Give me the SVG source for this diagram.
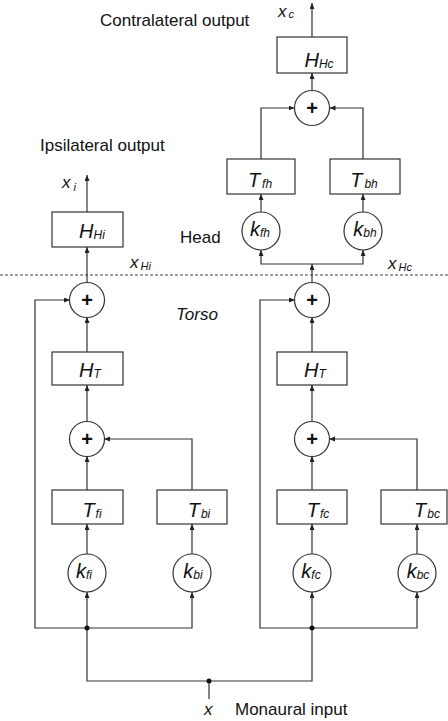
<svg xmlns="http://www.w3.org/2000/svg" width="448" height="721" viewBox="0 0 448 721">
<defs>
<marker id="ah" markerUnits="userSpaceOnUse" markerWidth="7" markerHeight="6" refX="6" refY="2.5" orient="auto">
<path d="M0,0 L6,2.5 L0,5 z" fill="#222"/>
</marker>
<style>
.bx{fill:#fff;stroke:#333;stroke-width:1.2}
.cr{fill:#fff;stroke:#333;stroke-width:1.2}
.ln{fill:none;stroke:#333;stroke-width:1.2}
.ar{fill:none;stroke:#333;stroke-width:1.2;marker-end:url(#ah)}
.lbl{font-family:"Liberation Sans",Arial,sans-serif;font-size:17px;fill:#111}
.m{font-family:"Liberation Sans",Arial,sans-serif;font-style:italic;font-size:20px;fill:#111;text-anchor:middle}
.s{font-size:12px}
.v{font-family:"Liberation Sans",Arial,sans-serif;font-style:italic;font-size:17px;fill:#111}
.vs{font-size:11px}
.pl{font-family:"Liberation Sans",Arial,sans-serif;font-weight:bold;font-size:20px;fill:#111;text-anchor:middle}
</style>
</defs>
<g id="connectors">
<line x1="0" y1="275" x2="448" y2="275" stroke="#444" stroke-width="1" stroke-dasharray="3,2"/>
<!-- head -->
<path class="ar" d="M312,37 V3"/>
<path class="ar" d="M312,90.5 V73"/>
<path class="ar" d="M261,159 V108 H294.5"/>
<path class="ar" d="M363,159 V108 H329.5"/>
<path class="ar" d="M261,212 V194"/>
<path class="ar" d="M363,212 V194"/>
<path class="ar" d="M312,283 V264"/>
<path class="ar" d="M312,264 H261 V250"/>
<path class="ar" d="M312,264 H363 V250"/>
<!-- left torso -->
<path class="ar" d="M87,212 V175"/>
<path class="ar" d="M87,283 V247"/>
<path class="ar" d="M87,352 V317"/>
<path class="ar" d="M87,422 V385"/>
<path class="ar" d="M87,490 V456"/>
<path class="ar" d="M192,490 V439 H104"/>
<path class="ar" d="M87,554 V524"/>
<path class="ar" d="M192,554 V524"/>
<path class="ar" d="M87,628 V592"/>
<path class="ar" d="M87,628 H192 V592"/>
<path class="ar" d="M87,628 H35 V300 H70"/>
<!-- right torso -->
<path class="ar" d="M312,352 V317"/>
<path class="ar" d="M312,422 V385"/>
<path class="ar" d="M312,490 V456"/>
<path class="ar" d="M417,490 V439 H329"/>
<path class="ar" d="M312,554 V524"/>
<path class="ar" d="M417,554 V524"/>
<path class="ar" d="M312,628 V592"/>
<path class="ar" d="M312,628 H417 V592"/>
<path class="ar" d="M312,628 H260 V300 H295"/>
<!-- input -->
<path class="ln" d="M87,628 V681 H312 V628"/>
<path class="ln" d="M209,681 V699"/>
<circle cx="87" cy="628" r="2.5" fill="#111"/>
<circle cx="312" cy="628" r="2.5" fill="#111"/>
<circle cx="209" cy="681" r="2.5" fill="#111"/>
</g>
<g id="HHc"><rect class="bx" x="277" y="37" width="70" height="36"/><text class="m" x="319" y="67">H<tspan class="s" dy="1">Hc</tspan></text></g>
<g id="sumHead"><circle class="cr" cx="312" cy="108" r="17.5"/><text class="pl" x="312" y="115">+</text></g>
<g id="Tfh"><rect class="bx" x="227" y="159" width="68" height="35"/><text class="m" x="260" y="187">T<tspan class="s" dx="2" dy="1">fh</tspan></text></g>
<g id="Tbh"><rect class="bx" x="330" y="159" width="70" height="35"/><text class="m" x="364" y="187">T<tspan class="s" dx="2" dy="1">bh</tspan></text></g>
<g id="kfh"><circle class="cr" cx="261" cy="231" r="19"/><text class="m" x="260" y="236">k<tspan class="s" dy="1">fh</tspan></text></g>
<g id="kbh"><circle class="cr" cx="363" cy="231" r="19"/><text class="m" x="365" y="236">k<tspan class="s" dy="1">bh</tspan></text></g>
<g id="HHi"><rect class="bx" x="52" y="212" width="71" height="35"/><text class="m" x="92" y="238">H<tspan class="s" dy="1">Hi</tspan></text></g>
<g id="sumTorsoL"><circle class="cr" cx="87" cy="300" r="17.5"/><text class="pl" x="87" y="307">+</text></g>
<g id="HTL"><rect class="bx" x="52" y="352" width="71" height="33"/><text class="m" x="90" y="377">H<tspan class="s" dy="1">T</tspan></text></g>
<g id="sumL"><circle class="cr" cx="87" cy="439" r="17.5"/><text class="pl" x="87" y="446">+</text></g>
<g id="Tfi"><rect class="bx" x="52" y="490" width="71" height="34"/><text class="m" x="92" y="517">T<tspan class="s" dx="1" dy="1">fi</tspan></text></g>
<g id="Tbi"><rect class="bx" x="157" y="490" width="70" height="34"/><text class="m" x="199" y="517">T<tspan class="s" dx="1" dy="1">bi</tspan></text></g>
<g id="kfi"><circle class="cr" cx="87" cy="573" r="19"/><text class="m" x="84" y="578">k<tspan class="s" dy="1">fi</tspan></text></g>
<g id="kbi"><circle class="cr" cx="192" cy="573" r="19"/><text class="m" x="193" y="578">k<tspan class="s" dy="1">bi</tspan></text></g>
<g id="sumTorsoR"><circle class="cr" cx="312" cy="300" r="17.5"/><text class="pl" x="312" y="307">+</text></g>
<g id="HTR"><rect class="bx" x="277" y="352" width="70" height="33"/><text class="m" x="315" y="377">H<tspan class="s" dy="1">T</tspan></text></g>
<g id="sumR"><circle class="cr" cx="312" cy="439" r="17.5"/><text class="pl" x="312" y="446">+</text></g>
<g id="Tfc"><rect class="bx" x="277" y="490" width="70" height="34"/><text class="m" x="318" y="517">T<tspan class="s" dx="1" dy="1">fc</tspan></text></g>
<g id="Tbc"><rect class="bx" x="381" y="490" width="66" height="34"/><text class="m" x="427" y="517">T<tspan class="s" dx="1" dy="1">bc</tspan></text></g>
<g id="kfc"><circle class="cr" cx="312" cy="573" r="19"/><text class="m" x="311" y="578">k<tspan class="s" dy="1">fc</tspan></text></g>
<g id="kbc"><circle class="cr" cx="417" cy="573" r="19"/><text class="m" x="418" y="578">k<tspan class="s" dy="1">bc</tspan></text></g>
<g id="labels">
<text class="lbl" x="100" y="26">Contralateral output</text>
<text class="lbl" x="40" y="151">Ipsilateral output</text>
<text class="lbl" x="180" y="243">Head</text>
<text class="lbl" x="176" y="320" font-style="italic">Torso</text>
<text class="lbl" x="235" y="715">Monaural input</text>
<text class="v" x="204" y="715" font-size="18">x</text>
<text class="v" x="278" y="17">x<tspan class="vs" dx="2" dy="1">c</tspan></text>
<text class="v" x="62" y="188">x<tspan class="vs" dx="3" dy="3">i</tspan></text>
<text class="v" x="130" y="268" font-size="18">x<tspan class="vs" dx="2" dy="2">Hi</tspan></text>
<text class="v" x="388" y="269" font-size="18">x<tspan class="vs" dx="2" dy="2">Hc</tspan></text>
</g>
</svg>
